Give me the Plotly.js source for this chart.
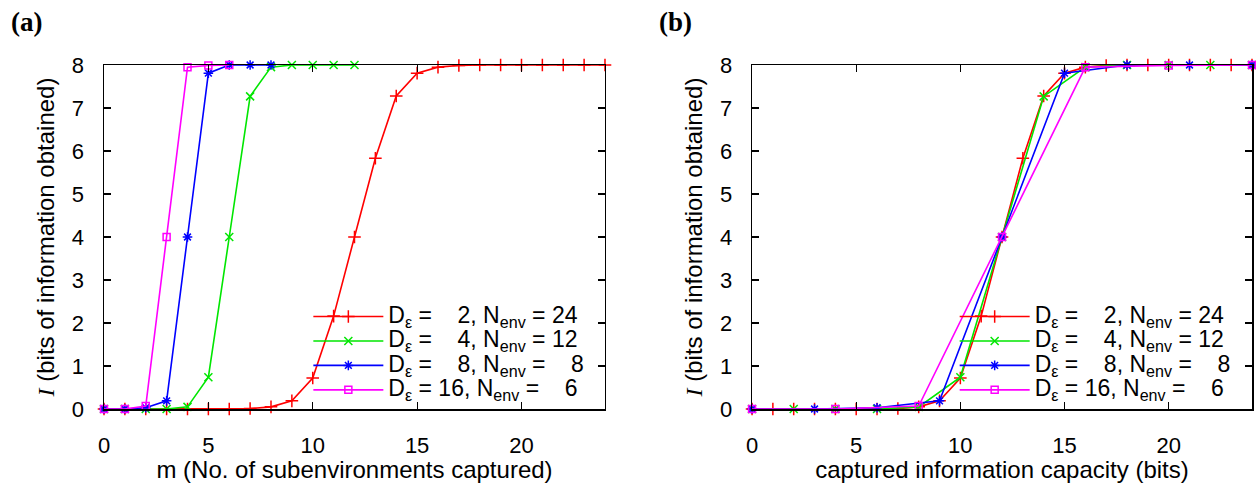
<!DOCTYPE html>
<html>
<head>
<meta charset="utf-8">
<script src="https://cdn.plot.ly/plotly-3.0.1.min.js"></script>
<style>html,body{margin:0;padding:0;background:#fff;}#chart{width:1256px;height:483px;}</style>
</head>
<body>
<div id="chart"></div>
<script>
// ---- data ----
// panel (a): x = m (number of subenvironments captured)
var mRed   = [0,1,2,3,4,5,6,7,8,9,10,11,12,13,14,15,16,17,18,19,20,21,22,23,24];
var mGreen = [0,1,2,3,4,5,6,7,8,9,10,11,12];
var mBlue  = [0,1,2,3,4,5,6,7,8];
var mMag   = [0,1,2,3,4,5,6];
// panel (b): x = captured information capacity (bits)
var capRed   = [0,1,2,3,4,5,6,7,8,9,10,11,12,13,14,15,16,17,18,19,20,21,22,23,24];
var capGreen = [0,2,4,6,8,10,12,14,16,18,20,22,24];
var capBlue  = [0,3,6,9,12,15,18,21,24];
var capMag   = [0,4,8,12,16,20,24];
// I (bits of information obtained)
var iRed   = [0,0,0,0,0,0,0,0.01,0.05,0.19,0.72,2.16,4.0,5.83,7.28,7.81,7.95,7.99,8,8,8,8,8,8,8];
var iGreen = [0,0,0,0,0.05,0.74,4.0,7.27,7.95,8,8,8,8];
var iBlue  = [0,0,0.03,0.19,4.0,7.81,8,8,8];
var iMag   = [0,0,0.07,4.0,7.95,7.99,8];

var labels = [
  'D<sub>\u03b5</sub> = \u2007 2, N<sub>env</sub> = 24',
  'D<sub>\u03b5</sub> = \u2007 4, N<sub>env</sub> = 12',
  'D<sub>\u03b5</sub> = \u2007 8, N<sub>env</sub> = \u2007 8',
  'D<sub>\u03b5</sub> = 16, N<sub>env</sub> = \u2007 6'
];
var colors = ['#ff0000','#00e600','#0000ff','#ff00ff'];
var symbols = ['cross-thin-open','x-thin-open','asterisk-open','square-open'];
var msizes = [9,8,8,7];

var xsA = [mRed, mGreen, mBlue, mMag];
var xsB = [capRed, capGreen, capBlue, capMag];
var ys  = [iRed, iGreen, iBlue, iMag];

var traces = [];
function addSeries(xs, xa, ya, leg) {
  for (var k = 0; k < 4; k++) {
    traces.push({
      type: 'scatter', mode: 'lines+markers',
      x: xs[k], y: ys[k], xaxis: xa, yaxis: ya, legend: leg,
      name: '<span style="font-size:23px">' + labels[k] + '</span>', cliponaxis: false,
      line: {color: colors[k], width: 1.6},
      marker: {symbol: symbols[k], size: msizes[k], color: colors[k],
               line: {color: colors[k], width: 1.5}}
    });
  }
}
addSeries(xsA, 'x', 'y', 'legend');
addSeries(xsB, 'x2', 'y2', 'legend2');

var tickFont = {family: 'Liberation Sans, Arial, sans-serif', size: 22, color: '#000'};
var titleFont = {family: 'Liberation Sans, Arial, sans-serif', size: 24, color: '#000'};
var legFont = {family: 'Liberation Sans, Arial, sans-serif', size: 16.5, color: '#000'};

function xax(domain, title, anchor) {
  return {
    domain: domain, anchor: anchor, range: [0, 24],
    tickvals: [0,5,10,15,20], ticks: 'inside', ticklen: 7, tickwidth: 1.2, tickcolor: '#000',
    showline: true, linecolor: '#000', linewidth: 1.5, mirror: 'ticks',
    showgrid: false, zeroline: false, tickfont: tickFont, ticklabelstandoff: 16,
    title: {text: title, font: titleFont, standoff: 9}
  };
}
function yax(anchor) {
  return {
    domain: [0, 1], anchor: anchor, range: [0, 8],
    tickvals: [0,1,2,3,4,5,6,7,8], ticks: 'inside', ticklen: 7, tickwidth: 1.2, tickcolor: '#000',
    showline: true, linecolor: '#000', linewidth: 1.5, mirror: 'ticks',
    showgrid: false, zeroline: false, tickfont: tickFont, ticklabelstandoff: 14,
    title: {text: '<span style="font-family:\'Liberation Serif\',serif;font-style:italic">I</span> (bits of information obtained)', font: titleFont, standoff: 10}
  };
}

var legCommon = {
  bgcolor: 'rgba(0,0,0,0)', borderwidth: 0, font: legFont,
  itemwidth: 70, tracegroupgap: 0, xanchor: 'left', yanchor: 'bottom'
};
var leg1 = Object.assign({}, legCommon, {x: 0.178, y: 0.005});
var leg2 = Object.assign({}, legCommon, {x: 0.741, y: 0.005});

var layout = {
  width: 1256, height: 483,
  margin: {l: 104, r: 4, t: 65, b: 74},
  paper_bgcolor: '#fff', plot_bgcolor: '#fff',
  showlegend: true,
  xaxis: xax([0, 0.4364], 'm (No. of subenvironments captured)', 'y'),
  yaxis: yax('x'),
  xaxis2: xax([0.5645, 1], 'captured information capacity (bits)', 'y2'),
  yaxis2: yax('x2'),
  legend: leg1, legend2: leg2,
  annotations: [
    {text: '<b>(a)</b>', xref: 'paper', yref: 'paper', x: -0.083, y: 1.125, xanchor: 'left', yanchor: 'middle',
     showarrow: false, font: {family: 'Liberation Serif, serif', size: 27, color: '#000'}},
    {text: '<b>(b)</b>', xref: 'paper', yref: 'paper', x: 0.4815, y: 1.125, xanchor: 'left', yanchor: 'middle',
     showarrow: false, font: {family: 'Liberation Serif, serif', size: 27, color: '#000'}}
  ]
};

Plotly.newPlot('chart', traces, layout, {displayModeBar: false, staticPlot: true});
</script>
</body>
</html>
